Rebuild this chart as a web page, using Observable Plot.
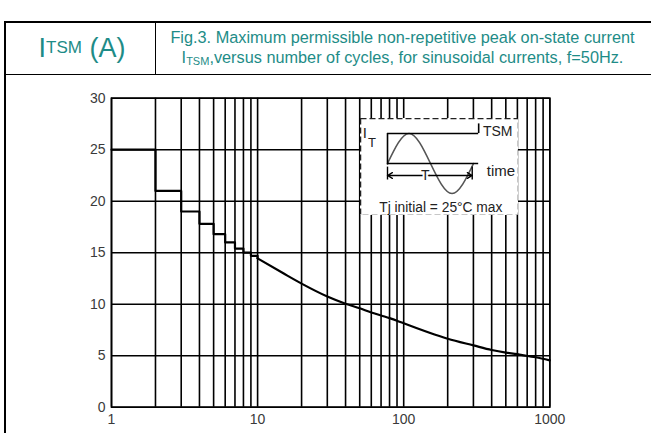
<!DOCTYPE html>
<html>
<head>
<meta charset="utf-8">
<script src="https://cdn.jsdelivr.net/npm/d3@7"></script>
<script src="https://cdn.jsdelivr.net/npm/@observablehq/plot@0.6"></script>
<style>
  html, body { margin: 0; padding: 0; background: #fff; }
  #page { position: relative; width: 651px; height: 433px; overflow: hidden; background: #fff;
          font-family: "Liberation Sans", Arial, sans-serif; }
  .ln { position: absolute; background: #000; }
  #hl { position: absolute; left: 5px; top: 22px; width: 150px; height: 52px; display: flex;
        align-items: center; justify-content: center; color: #1e8c87; font-size: 27px; padding-left: 4px; box-sizing: border-box; }
  #hl sub { font-size: 17px; vertical-align: -4px; line-height: 0; }
  #hr { position: absolute; left: 155px; top: 22px; width: 495px; height: 52px; display: flex;
        flex-direction: column; align-items: center; justify-content: center; color: #1e8c87;
        font-size: 16.3px; line-height: 20px; text-align: center; padding-bottom: 2px; box-sizing: border-box; }
  #hr sub { font-size: 11px; vertical-align: -2px; line-height: 0; }
  #chart { position: absolute; left: 0; top: 75px; }
  #inset { position: absolute; left: 360px; top: 118px; background: #fff; }
</style>
</head>
<body>
<div id="page">
  <div id="hl">I<sub>TSM</sub>&nbsp;(A)</div>
  <div id="hr">
    <div>Fig.3. Maximum permissible non-repetitive peak on-state current</div>
    <div>I<sub>TSM</sub>,versus number of cycles, for sinusoidal currents, f=50Hz.</div>
  </div>
  <div id="chart"></div>
  <div id="inset"></div>
  <div class="ln" style="left:4px;top:21px;width:647px;height:1.5px"></div>
  <div class="ln" style="left:4px;top:73.5px;width:647px;height:1.5px"></div>
  <div class="ln" style="left:4px;top:21px;width:1.5px;height:412px"></div>
  <div class="ln" style="left:154.5px;top:21px;width:1.5px;height:53px"></div>
</div>
<script>
// ---- data ----
const xTicks = [1, 10, 100, 1000];
const yTicks = [0, 5, 10, 15, 20, 25, 30];
const xGrid = [1,2,3,4,5,6,7,8,9,10,20,30,40,50,60,70,80,90,100,200,300,400,500,600,700,800,900,1000];

// staircase region (integer numbers of cycles)
const stepCycles  = [1, 2, 3, 4, 5, 6, 7, 8, 9, 10];
const stepCurrent = [25, 21, 19, 17.8, 16.8, 16, 15.4, 15, 14.7, 14.45];

// continuous region
const curveCycles  = [10, 15, 20, 30, 40, 50, 60, 70, 80, 90, 100, 200, 300, 400, 500, 600, 700, 800, 1000];
const curveCurrent = [14.45, 13.0, 12.0, 10.75, 10.05, 9.6, 9.2, 8.9, 8.65, 8.4, 8.15, 6.65, 6.0, 5.55, 5.3, 5.15, 4.97, 4.85, 4.55];

const stepData  = stepCycles.map((c, i) => ({cycles: c, itsm: stepCurrent[i]}));
const curveData = curveCycles.map((c, i) => ({cycles: c, itsm: curveCurrent[i]}));

const chart = Plot.plot({
  width: 651,
  height: 358,
  marginTop: 22.7,
  marginBottom: 26.3,
  marginLeft: 111,
  marginRight: 101.7,
  style: {fontFamily: "Liberation Sans, Arial, sans-serif", fontSize: "14px", color: "#3a3a3a", background: "transparent"},
  x: {type: "log", domain: [1, 1000], ticks: xTicks, tickFormat: d => String(d), tickSize: 0, tickPadding: 7, label: null},
  y: {domain: [0, 30], ticks: yTicks, tickSize: 0, tickPadding: 6, label: null},
  marks: [
    Plot.ruleX(xGrid, {stroke: "#000", strokeWidth: 1.6}),
    Plot.ruleY(yTicks, {stroke: "#000", strokeWidth: 1.6}),
    Plot.line(stepData, {x: "cycles", y: "itsm", curve: "step-after", stroke: "#000", strokeWidth: 2.2}),
    Plot.line(curveData, {x: "cycles", y: "itsm", curve: "monotone-x", stroke: "#000", strokeWidth: 2.2}),
    Plot.frame({stroke: "#000", strokeWidth: 1.6})
  ]
});
document.getElementById("chart").appendChild(chart);

// ---- inset schematic (time in periods, current in peak units) ----
const wavePhase = [0, 0.25, 0.5, 0.75, 1];
const waveValue = [0, 1, 0, -1, 0];
const wave = wavePhase.map((p, i) => ({t: p, v: waveValue[i]}));
const insetLabels = [
  {t: -0.265, v: 1.0, text: "I", size: 15, anchor: "middle"},
  {t: -0.18, v: 0.7, text: "T", size: 13, anchor: "middle"},
  {t: 1.11, v: 1.07, text: "TSM", size: 14, anchor: "start"},
  {t: 1.155, v: -0.27, text: "time", size: 15, anchor: "start"},
  {t: 0.62, v: -1.46, text: "Tj initial = 25°C max", size: 13.8, anchor: "middle"}
];

const inset = Plot.plot({
  width: 158,
  height: 97,
  margin: 0,
  style: {fontFamily: "Liberation Sans, Arial, sans-serif", background: "#fff", color: "#222"},
  x: {domain: [-0.314, 1.523], axis: null},
  y: {domain: [-1.733, 1.5], axis: null},
  marks: [
    Plot.line(wave, {x: "t", y: "v", curve: "natural", stroke: "#555", strokeWidth: 1.6}),
    Plot.ruleY([0], {x1: 0, x2: 1.06, stroke: "#000", strokeWidth: 1.6}),
    Plot.ruleY([1], {x1: 0, x2: 1.06, stroke: "#000", strokeWidth: 1.6}),
    Plot.ruleX([0], {y1: -0.05, y2: 1, stroke: "#000", strokeWidth: 1.6}),
    Plot.ruleX([1.06], {y1: 1, y2: 1.32, stroke: "#000", strokeWidth: 1.6}),
    Plot.ruleX([0, 0.985], {y1: -0.12, y2: -0.55, stroke: "#000", strokeWidth: 1.4}),
    Plot.arrow([{a: 0.49, b: 0}, {a: 0.49, b: 0.985}], {x1: "a", x2: "b", y1: -0.4, y2: -0.4, stroke: "#000", strokeWidth: 1.4, headLength: 6, bend: 0}),
    Plot.text([{t: 0.44, v: -0.4}], {x: "t", y: "v", text: () => "T", fontSize: 14, fill: "#222", stroke: "#fff", strokeWidth: 4}),
    ...insetLabels.map(d => Plot.text([d], {x: "t", y: "v", text: "text", fontSize: d.size, textAnchor: d.anchor, fill: "#222"})),
    Plot.frame({stroke: "#222", strokeWidth: 1.5, strokeDasharray: "6,3"})
  ]
});
document.getElementById("inset").appendChild(inset);
</script>
</body>
</html>
